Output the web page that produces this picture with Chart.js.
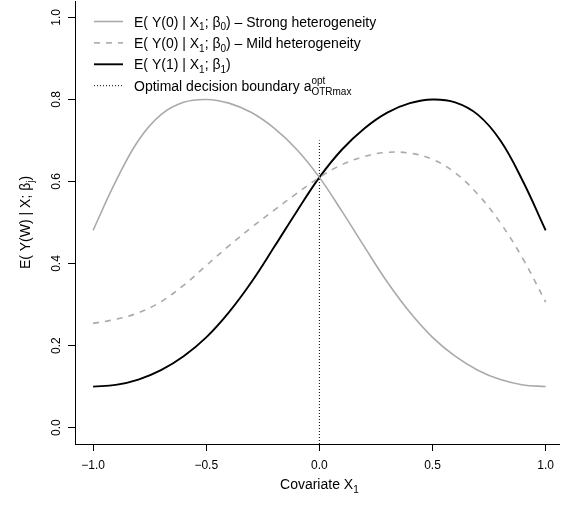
<!DOCTYPE html>
<html>
<head>
<meta charset="utf-8">
<script src="https://cdn.jsdelivr.net/npm/chart.js@4/dist/chart.umd.min.js"></script>
<style>
  html, body { margin: 0; padding: 0; background: #fff; }
  #wrap { width: 561px; height: 506px; position: relative; }
</style>
</head>
<body>
<div id="wrap"><canvas id="myChart"></canvas></div>
<script>
// covariate grid and the three curves
var covX = [-1.0, -0.9, -0.8, -0.7, -0.6, -0.5, -0.4, -0.3, -0.2, -0.1, 0.0,
            0.1, 0.2, 0.3, 0.4, 0.5, 0.6, 0.7, 0.8, 0.9, 1.0];
var strongY0 = [0.481, 0.60, 0.70, 0.763, 0.793, 0.80, 0.791, 0.768, 0.73, 0.678, 0.61,
                0.527, 0.44, 0.355, 0.281, 0.22, 0.174, 0.14, 0.117, 0.104, 0.10];
var mildY0 = [0.254, 0.264, 0.28, 0.307, 0.347, 0.395, 0.443, 0.488, 0.53, 0.571, 0.61,
              0.641, 0.661, 0.671, 0.669, 0.654, 0.621, 0.569, 0.499, 0.411, 0.306];
var treatY1 = [0.10, 0.104, 0.117, 0.14, 0.174, 0.22, 0.281, 0.355, 0.44, 0.527, 0.61,
               0.678, 0.73, 0.768, 0.791, 0.80, 0.793, 0.763, 0.70, 0.60, 0.481];
var boundaryX = [0, 0];
var boundaryY = [-0.04, 0.70];

var xTicks = [-1.0, -0.5, 0.0, 0.5, 1.0];
var yTicks = [0.0, 0.2, 0.4, 0.6, 0.8, 1.0];

var FONT = '"Liberation Sans", Arial, Helvetica, sans-serif';

function pts(xs, ys) {
    return xs.map(function (x, i) { return { x: x, y: ys[i] }; });
}

function fmt(v) {
    return (v < 0 ? '\u2212' : '') + Math.abs(v).toFixed(1);
}

// draw text with sub/superscripts; runs = [[text, kind], ...]
function richWidth(ctx, runs, size) {
    var w = 0;
    runs.forEach(function (r) {
        if (r[1] === 'n') {
            ctx.font = size + 'px ' + FONT;
            w += ctx.measureText(r[0]).width;
        } else if (r[1] === 'subsup') {
            ctx.font = Math.round(size * 0.72) + 'px ' + FONT;
            w += Math.max(ctx.measureText(r[0]).width, ctx.measureText(r[2]).width);
        } else {
            ctx.font = Math.round(size * 0.72) + 'px ' + FONT;
            w += ctx.measureText(r[0]).width;
        }
    });
    return w;
}

function drawRich(ctx, x, y, runs, size, align) {
    var w = richWidth(ctx, runs, size);
    if (align === 'center') x -= w / 2;
    ctx.textBaseline = 'alphabetic';
    ctx.textAlign = 'left';
    ctx.fillStyle = '#000';
    runs.forEach(function (r) {
        if (r[1] === 'n') {
            ctx.font = size + 'px ' + FONT;
            ctx.fillText(r[0], x, y);
            x += ctx.measureText(r[0]).width;
        } else if (r[1] === 'sub') {
            ctx.font = Math.round(size * 0.72) + 'px ' + FONT;
            ctx.fillText(r[0], x, y + size * 0.28);
            x += ctx.measureText(r[0]).width;
        } else if (r[1] === 'sup') {
            ctx.font = Math.round(size * 0.72) + 'px ' + FONT;
            ctx.fillText(r[0], x, y - size * 0.45);
            x += ctx.measureText(r[0]).width;
        } else if (r[1] === 'subsup') {
            ctx.font = Math.round(size * 0.72) + 'px ' + FONT;
            ctx.fillText(r[0], x, y + size * 0.3);
            ctx.fillText(r[2], x, y - size * 0.5);
            x += Math.max(ctx.measureText(r[0]).width, ctx.measureText(r[2]).width);
        }
    });
}

var legendItems = [
    { runs: [['E( Y(0) | X', 'n'], ['1', 'sub'], ['; \u03B2', 'n'], ['0', 'sub'], [') \u2013 Strong heterogeneity', 'n']],
      color: '#aaaaaa', width: 1.6, dash: [] },
    { runs: [['E( Y(0) | X', 'n'], ['1', 'sub'], ['; \u03B2', 'n'], ['0', 'sub'], [') \u2013 Mild heterogeneity', 'n']],
      color: '#aaaaaa', width: 1.6, dash: [6, 6] },
    { runs: [['E( Y(1) | X', 'n'], ['1', 'sub'], ['; \u03B2', 'n'], ['1', 'sub'], [')', 'n']],
      color: '#000000', width: 1.9, dash: [] },
    { runs: [['Optimal decision boundary a', 'n'], ['OTRmax', 'subsup', 'opt']],
      color: '#000000', width: 1, dash: [1, 2] }
];

var extrasPlugin = {
    id: 'extras',
    afterDraw: function (chart) {
        var ctx = chart.ctx;
        var ys = chart.scales.y;
        var xs = chart.scales.x;
        ctx.save();
        // y tick labels, rotated like R's default
        ctx.font = '12px ' + FONT;
        ctx.fillStyle = '#000';
        ctx.textAlign = 'center';
        ctx.textBaseline = 'middle';
        yTicks.forEach(function (v) {
            var py = ys.getPixelForValue(v);
            ctx.save();
            ctx.translate(57, py);
            ctx.rotate(-Math.PI / 2);
            ctx.fillText(v.toFixed(1), 0, 0);
            ctx.restore();
        });
        // axis titles
        drawRich(ctx, xs.getPixelForValue(0), 489, [['Covariate X', 'n'], ['1', 'sub']], 14, 'center');
        ctx.save();
        ctx.translate(30, (ys.top + ys.bottom) / 2);
        ctx.rotate(-Math.PI / 2);
        drawRich(ctx, 0, 0, [['E( Y(W) | X; \u03B2', 'n'], ['j', 'sub'], [')', 'n']], 14, 'center');
        ctx.restore();
        // legend
        legendItems.forEach(function (it, i) {
            var cy = 21.5 + i * 21.4;
            ctx.beginPath();
            ctx.strokeStyle = it.color;
            ctx.lineWidth = it.width;
            ctx.setLineDash(it.dash);
            ctx.moveTo(94, cy);
            ctx.lineTo(123, cy);
            ctx.stroke();
            ctx.setLineDash([]);
            drawRich(ctx, 134, cy + 5, it.runs, 14, 'left');
        });
        ctx.restore();
    }
};

const ctx = document.getElementById('myChart');
var xx = new Chart(ctx, {
    type: 'line',
    data: {
        datasets: [
            {
                label: 'Strong heterogeneity',
                data: pts(covX, strongY0),
                borderColor: '#aaaaaa',
                borderWidth: 1.6,
                tension: 0.4
            },
            {
                label: 'Mild heterogeneity',
                data: pts(covX, mildY0),
                borderColor: '#aaaaaa',
                borderWidth: 1.6,
                borderDash: [6, 6],
                tension: 0.4
            },
            {
                label: 'E(Y(1))',
                data: pts(covX, treatY1),
                borderColor: '#000000',
                borderWidth: 1.9,
                tension: 0.4
            },
            {
                label: 'boundary',
                data: pts(boundaryX, boundaryY),
                borderColor: '#000000',
                borderWidth: 1,
                borderDash: [1, 2]
            }
        ]
    },
    options: {
        responsive: true,
        maintainAspectRatio: false,
        animation: false,
        events: [],
        elements: { point: { radius: 0 } },
        layout: { padding: { top: 1, right: 0, left: 0, bottom: 0 } },
        plugins: { legend: { display: false }, tooltip: { enabled: false } },
        scales: {
            x: {
                type: 'linear',
                min: -1.08,
                max: 1.06,
                afterBuildTicks: function (s) { s.ticks = xTicks.map(function (v) { return { value: v }; }); },
                afterFit: function (s) { s.height = 62; },
                grid: { drawOnChartArea: false, drawTicks: true, tickLength: 7, color: '#000' },
                border: { display: true, color: '#000', width: 1 },
                ticks: {
                    color: '#000',
                    font: { family: FONT, size: 12 },
                    padding: 7,
                    maxRotation: 0,
                    callback: function (v) { return fmt(v); }
                }
            },
            y: {
                type: 'linear',
                min: -0.04,
                max: 1.04,
                afterBuildTicks: function (s) { s.ticks = yTicks.map(function (v) { return { value: v }; }); },
                afterFit: function (s) { s.width = 75; },
                grid: { drawOnChartArea: false, drawTicks: true, tickLength: 7, color: '#000' },
                border: { display: true, color: '#000', width: 1 },
                ticks: { display: false }
            }
        }
    },
    plugins: [extrasPlugin]
});
</script>
</body>
</html>
